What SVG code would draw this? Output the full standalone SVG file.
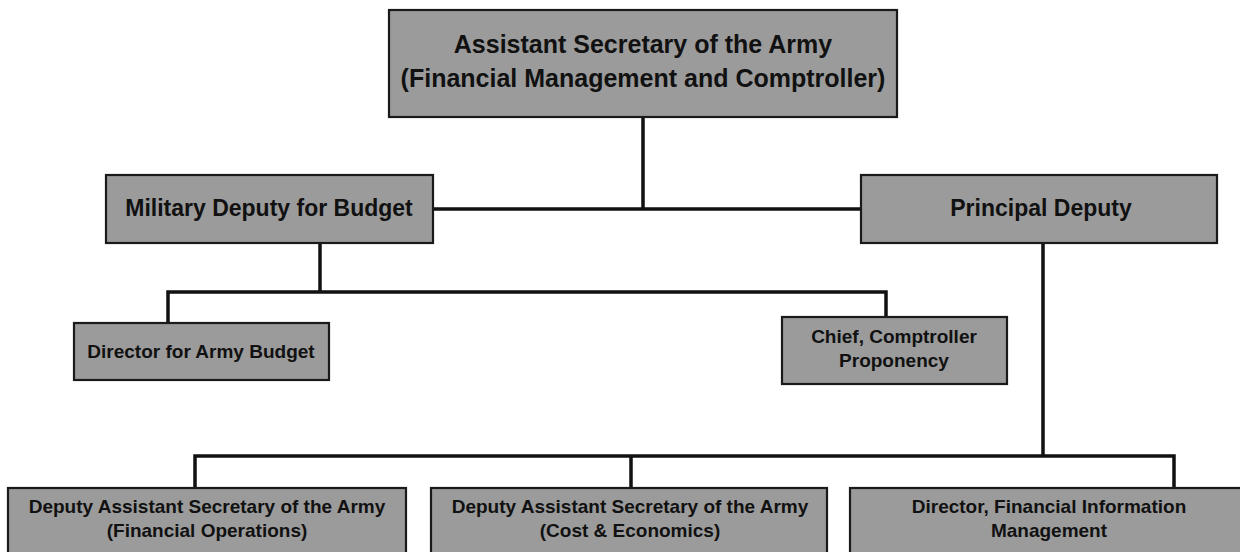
<svg xmlns="http://www.w3.org/2000/svg" width="1240" height="552" viewBox="0 0 1240 552">
<style>
.box{fill:#9b9b9b;stroke:#1a1a1a;stroke-width:2.2}
.t{font-family:"Liberation Sans",Arial,sans-serif;font-weight:bold;fill:#111;text-anchor:middle}
.conn{fill:none;stroke:#111;stroke-width:3.5;stroke-linejoin:miter;stroke-linecap:square}
</style>
<rect width="1240" height="552" fill="#fff"/>
<g id="connectors">
<path class="conn" d="M643 117V209M433 209H861"/>
<path class="conn" d="M320 243V292M168 292H886M168 292V323M886 292V317"/>
<path class="conn" d="M1043 243V456M195 456H1174M195 456V488M631 456V488M1174 456V488"/>
</g>
<g id="asa">
<rect class="box" x="389" y="10" width="508" height="107"/>
<text class="t" x="643" y="53" font-size="25">Assistant Secretary of the Army</text>
<text class="t" x="643" y="87" font-size="25">(Financial Management and Comptroller)</text>
</g>
<g id="military-deputy">
<rect class="box" x="106" y="175" width="327" height="68"/>
<text class="t" x="269" y="216" font-size="23">Military Deputy for Budget</text>
</g>
<g id="principal-deputy">
<rect class="box" x="861" y="175" width="356" height="68"/>
<text class="t" x="1041" y="216" font-size="23">Principal Deputy</text>
</g>
<g id="director-army-budget">
<rect class="box" x="74" y="323" width="255" height="57"/>
<text class="t" x="201" y="358" font-size="19">Director for Army Budget</text>
</g>
<g id="chief-comptroller">
<rect class="box" x="782" y="317" width="225" height="67"/>
<text class="t" x="894" y="343" font-size="19">Chief, Comptroller</text>
<text class="t" x="894" y="367" font-size="19">Proponency</text>
</g>
<g id="dasa-fo">
<rect class="box" x="8" y="488" width="398" height="80"/>
<text class="t" x="207" y="513" font-size="19">Deputy Assistant Secretary of the Army</text>
<text class="t" x="207" y="537" font-size="19">(Financial Operations)</text>
</g>
<g id="dasa-ce">
<rect class="box" x="431" y="488" width="396" height="80"/>
<text class="t" x="630" y="513" font-size="19">Deputy Assistant Secretary of the Army</text>
<text class="t" x="630" y="537" font-size="19">(Cost &amp; Economics)</text>
</g>
<g id="director-fim">
<rect class="box" x="850" y="488" width="400" height="80"/>
<text class="t" x="1049" y="513" font-size="19">Director, Financial Information</text>
<text class="t" x="1049" y="537" font-size="19">Management</text>
</g>
</svg>
